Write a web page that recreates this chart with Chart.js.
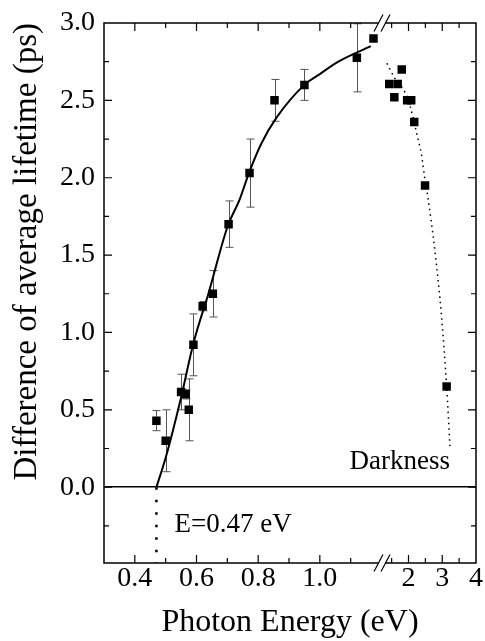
<!DOCTYPE html>
<html>
<head>
<meta charset="utf-8">
<script src="https://cdn.jsdelivr.net/npm/chart.js@4.4.0/dist/chart.umd.min.js"></script>
<style>
  html, body { margin: 0; padding: 0; background: #fff; }
  #wrap { width: 485px; height: 641px; }
</style>
</head>
<body>
<div id="wrap"><canvas id="chart" width="485" height="641"></canvas></div>
<script>
// measured points, left part of the energy axis (0.3 - 1.2 eV)
const lowE   = [0.47, 0.50, 0.55, 0.565, 0.575, 0.59, 0.62, 0.653, 0.704, 0.772, 0.853, 0.95, 1.12, 1.174];
const lowDt  = [0.43, 0.30, 0.615, 0.60, 0.50, 0.92, 1.17, 1.25, 1.70, 2.03, 2.50, 2.60, 2.775, 2.90];
const lowErr = [0.065, 0.20, 0.115, 0.03, 0.20, 0.20, 0.03, 0.15, 0.15, 0.22, 0.135, 0.10, 0.22, 0];

// measured points, right part (1.2 - 4 eV)
const highE  = [1.43, 1.58, 1.68, 1.80, 1.96, 2.08, 2.17, 2.49, 3.13];
const highDt = [2.605, 2.52, 2.605, 2.70, 2.50, 2.50, 2.36, 1.95, 0.65];

// solid fit curve
const fitE  = [0.47, 0.50, 0.55, 0.59, 0.64, 0.70, 0.74, 0.77, 0.81, 0.86, 0.95, 1.00, 1.06, 1.165];
const fitDt = [0.00, 0.19, 0.58, 0.93, 1.26, 1.68, 1.86, 2.03, 2.22, 2.39, 2.60, 2.67, 2.75, 2.85];

// dotted "Darkness" curve
const darkE  = [1.36, 1.60, 1.90, 2.05, 2.24, 2.39, 2.49, 2.57, 2.78, 2.98, 3.13, 3.23];
const darkDt = [2.74, 2.64, 2.55, 2.46, 2.29, 2.14, 1.985, 1.88, 1.53, 1.10, 0.65, 0.26];

// threshold marker E = 0.47 eV
const gapE  = [0.47, 0.47];
const gapDt = [0, -0.49];

// ticks
const yTicks = [-0.25, 0, 0.25, 0.5, 0.75, 1, 1.25, 1.5, 1.75, 2, 2.25, 2.5, 2.75, 3];
const yLabels = [0, 0.5, 1, 1.5, 2, 2.5, 3];
const xLowTicks = [0.4, 0.5, 0.6, 0.7, 0.8, 0.9, 1.0, 1.1];
const xLowLabels = [0.4, 0.6, 0.8, 1.0];
const xHighTicks = [1.5, 2, 2.5, 3, 3.5, 4];
const xHighLabels = [2, 3, 4];

const serif = '"Liberation Serif", "Times New Roman", serif';
Chart.defaults.font.family = serif;
Chart.defaults.color = '#000';

const toPts = (xs, ys) => xs.map((x, i) => ({ x: x, y: ys[i] }));

// frame, inward ticks, axis break, error bars and the two notes
const framePlugin = {
  id: 'frame',
  beforeDatasetsDraw(chart) {
    const ctx = chart.ctx, xs = chart.scales.x, ys = chart.scales.y;
    ctx.save();
    ctx.strokeStyle = '#555';
    ctx.lineWidth = 1;
    lowE.forEach((e, i) => {
      if (!lowErr[i]) return;
      const px = Math.round(xs.getPixelForValue(e)) + 0.5;
      const t = ys.getPixelForValue(lowDt[i] + lowErr[i]);
      const b = ys.getPixelForValue(lowDt[i] - lowErr[i]);
      ctx.beginPath();
      ctx.moveTo(px, t); ctx.lineTo(px, b);
      ctx.moveTo(px - 4, t); ctx.lineTo(px + 4, t);
      ctx.moveTo(px - 4, b); ctx.lineTo(px + 4, b);
      ctx.stroke();
    });
    ctx.restore();
  },
  afterDraw(chart) {
    const ctx = chart.ctx, a = chart.chartArea;
    ctx.save();
    ctx.strokeStyle = '#000';
    ctx.lineWidth = 1.5;
    ctx.strokeRect(a.left, a.top, a.right - a.left, a.bottom - a.top);

    ctx.lineWidth = 1.2;
    ctx.beginPath();
    ['x', 'x2'].forEach(id => {
      const s = chart.scales[id];
      s.ticks.forEach(t => {
        const p = s.getPixelForValue(t.value);
        if (p <= s.left + 1 || p >= s.right - 1) return;
        const len = t.label ? 8 : 5;
        ctx.moveTo(p, a.bottom); ctx.lineTo(p, a.bottom - len);
        ctx.moveTo(p, a.top); ctx.lineTo(p, a.top + len);
      });
    });
    const ys = chart.scales.y;
    ys.ticks.forEach(t => {
      const p = ys.getPixelForValue(t.value);
      if (p <= a.top + 1 || p >= a.bottom - 1) return;
      const len = t.label ? 8 : 5;
      ctx.moveTo(a.left, p); ctx.lineTo(a.left + len, p);
      ctx.moveTo(a.right, p); ctx.lineTo(a.right - len, p);
    });
    ctx.stroke();

    // axis break "//"
    const bx = chart.scales.x.right;
    [a.top, a.bottom].forEach(y => {
      ctx.fillStyle = '#fff';
      ctx.fillRect(bx - 3, y - 2, 7, 4);
      ctx.beginPath();
      ctx.moveTo(bx - 7.5, y + 8.5); ctx.lineTo(bx + 1.5, y - 8.5);
      ctx.moveTo(bx - 0.5, y + 8.5); ctx.lineTo(bx + 8.5, y - 8.5);
      ctx.stroke();
    });

    // notes
    const xs = chart.scales.x, x2 = chart.scales.x2;
    ctx.fillStyle = '#000';
    ctx.font = '27px ' + serif;
    ctx.textBaseline = 'alphabetic';
    ctx.textAlign = 'left';
    ctx.fillText('E=0.47 eV', xs.getPixelForValue(0.529), ys.getPixelForValue(-0.29));
    ctx.textAlign = 'right';
    ctx.fillText('Darkness', x2.getPixelForValue(3.23), ys.getPixelForValue(0.12));
    ctx.restore();
  }
};

new Chart(document.getElementById('chart'), {
  type: 'scatter',
  data: {
    datasets: [
      { data: toPts(lowE, lowDt), xAxisID: 'x', pointStyle: 'rect', pointRadius: 6,
        backgroundColor: '#000', borderWidth: 0, showLine: false },
      { data: toPts(highE, highDt), xAxisID: 'x2', pointStyle: 'rect', pointRadius: 6,
        backgroundColor: '#000', borderWidth: 0, showLine: false },
      { data: toPts(fitE, fitDt), xAxisID: 'x', showLine: true, pointRadius: 0,
        borderColor: '#000', borderWidth: 2, cubicInterpolationMode: 'monotone' },
      { data: toPts(darkE, darkDt), xAxisID: 'x2', showLine: true, pointRadius: 0,
        borderColor: '#000', borderWidth: 1.5, borderDash: [1.5, 4], cubicInterpolationMode: 'monotone' },
      { data: toPts(gapE, gapDt), xAxisID: 'x', showLine: true, pointRadius: 0,
        borderColor: '#000', borderWidth: 2.5, borderDash: [2.5, 10] }
    ]
  },
  options: {
    responsive: false,
    animation: false,
    events: [],
    layout: { padding: { top: 23, right: 7, left: 0, bottom: 0 } },
    plugins: {
      legend: { display: false },
      tooltip: { enabled: false },
      title: {
        display: true, text: 'Photon Energy (eV)', position: 'bottom', fullSize: false,
        color: '#000', font: { size: 32, weight: 'normal', lineHeight: 1 }, padding: { top: 4, bottom: 2 }
      }
    },
    scales: {
      x: {
        type: 'linear', position: 'bottom', stack: 'e', stackWeight: 279,
        min: 0.3, max: 1.2,
        afterBuildTicks: s => { s.ticks = xLowTicks.map(v => ({ value: v })); },
        afterFit: s => { s.height = 40; },
        ticks: { callback: v => xLowLabels.includes(v) ? v.toFixed(1) : '', autoSkip: false,
                 maxRotation: 0, padding: 2, font: { size: 28, lineHeight: 1 } },
        grid: { display: false, drawTicks: false },
        border: { display: false }
      },
      x2: {
        type: 'linear', position: 'bottom', stack: 'e', stackWeight: 95,
        min: 1.2, max: 4,
        afterBuildTicks: s => { s.ticks = xHighTicks.map(v => ({ value: v })); },
        afterFit: s => { s.height = 40; },
        ticks: { callback: v => xHighLabels.includes(v) ? String(v) : '', autoSkip: false,
                 maxRotation: 0, padding: 2, font: { size: 28, lineHeight: 1 } },
        grid: { display: false, drawTicks: false },
        border: { display: false }
      },
      y: {
        type: 'linear', position: 'left', min: -0.49, max: 3,
        afterBuildTicks: s => { s.ticks = yTicks.map(v => ({ value: v })); },
        afterFit: s => { s.width = 104; },
        ticks: { callback: v => yLabels.includes(v) ? v.toFixed(1) : '', autoSkip: false,
                 padding: 9, font: { size: 28, lineHeight: 1 } },
        grid: { drawTicks: false, lineWidth: 1.5,
                color: c => (c.tick && c.tick.value === 0) ? '#000' : 'rgba(0,0,0,0)' },
        border: { display: false },
        title: { display: true, text: 'Difference of average lifetime (ps)', align: 'end',
                 font: { size: 33, lineHeight: 1 }, padding: { top: 11, bottom: 0 } }
      }
    }
  },
  plugins: [framePlugin]
});
</script>
</body>
</html>
